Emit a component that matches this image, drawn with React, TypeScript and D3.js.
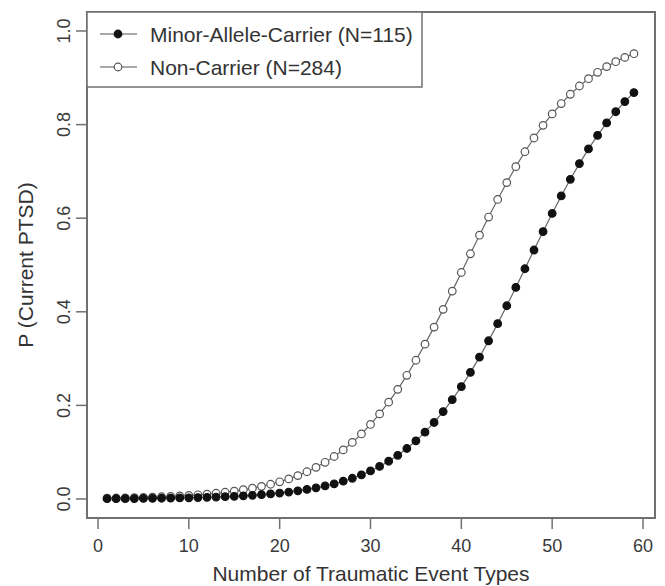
import React from "react";
import { select, scaleLinear, line } from "d3";

// number of traumatic event types (x) and fitted P(current PTSD) per group
const events = [
  1, 2, 3, 4, 5, 6, 7, 8, 9, 10, 11, 12, 13, 14, 15, 16, 17, 18, 19, 20,
  21, 22, 23, 24, 25, 26, 27, 28, 29, 30, 31, 32, 33, 34, 35, 36, 37, 38, 39, 40,
  41, 42, 43, 44, 45, 46, 47, 48, 49, 50, 51, 52, 53, 54, 55, 56, 57, 58, 59,
];

const carrier = [
  0.0006, 0.0007, 0.0008, 0.001, 0.0012, 0.0014, 0.0016, 0.0019, 0.0022, 0.0026,
  0.003, 0.0036, 0.0042, 0.0049, 0.0058, 0.0067, 0.0079, 0.0093, 0.0109, 0.0127,
  0.0149, 0.0174, 0.0204, 0.0238, 0.0279, 0.0325, 0.038, 0.0443, 0.0515, 0.0599,
  0.0696, 0.0807, 0.0934, 0.1079, 0.1243, 0.1428, 0.1635, 0.1867, 0.2122, 0.2401,
  0.2705, 0.3032, 0.3381, 0.3747, 0.4129, 0.4521, 0.492, 0.532, 0.5715, 0.6102,
  0.6475, 0.6831, 0.7167, 0.748, 0.7769, 0.8035, 0.8275, 0.8492, 0.8685,
];

const nonCarrier = [
  0.0018, 0.0021, 0.0025, 0.0029, 0.0035, 0.0041, 0.0048, 0.0056, 0.0065, 0.0077,
  0.009, 0.0105, 0.0123, 0.0144, 0.0169, 0.0198, 0.0231, 0.027, 0.0315, 0.0368,
  0.0429, 0.05, 0.0582, 0.0676, 0.0784, 0.0908, 0.1049, 0.1209, 0.139, 0.1593,
  0.1818, 0.2069, 0.2343, 0.2643, 0.2965, 0.3309, 0.3673, 0.4052, 0.4442, 0.484,
  0.524, 0.5637, 0.6025, 0.6401, 0.6761, 0.7101, 0.742, 0.7714, 0.7984, 0.8229,
  0.845, 0.8648, 0.8825, 0.8981, 0.9118, 0.9239, 0.9344, 0.9436, 0.9515,
];

const xTicks = [0, 10, 20, 30, 40, 50, 60];
const yTicks = [0, 0.2, 0.4, 0.6, 0.8, 1];
const yTickLabels = ["0.0", "0.2", "0.4", "0.6", "0.8", "1.0"];
const legendLabels = ["Minor-Allele-Carrier (N=115)", "Non-Carrier (N=284)"];

const W = 665;
const H = 586;
const box = { left: 87, top: 12, right: 655, bottom: 518 };
const FONT = "'Liberation Sans', Arial, Helvetica, sans-serif";

export default function App() {
  const svgRef = React.useRef<SVGSVGElement>(null);

  React.useEffect(() => {
    const svg = select(svgRef.current);
    svg.selectAll("*").remove();

    const xScale = scaleLinear().domain([0, 60]).range([98, 643]);
    const yScale = scaleLinear().domain([0, 1]).range([499, 31]);

    // plot box
    svg
      .append("rect")
      .attr("x", box.left)
      .attr("y", box.top)
      .attr("width", box.right - box.left)
      .attr("height", box.bottom - box.top)
      .attr("fill", "none")
      .attr("stroke", "#707070")
      .attr("stroke-width", 2);

    // x axis
    const gx = svg.append("g");
    gx.selectAll("line")
      .data(xTicks)
      .join("line")
      .attr("x1", d => xScale(d))
      .attr("x2", d => xScale(d))
      .attr("y1", box.bottom)
      .attr("y2", box.bottom + 11)
      .attr("stroke", "#707070")
      .attr("stroke-width", 1.5);
    gx.selectAll("text")
      .data(xTicks)
      .join("text")
      .attr("x", d => xScale(d))
      .attr("y", 552)
      .attr("text-anchor", "middle")
      .attr("font-family", FONT)
      .attr("font-size", 18)
      .attr("fill", "#3a3a3a")
      .text(d => d);

    // y axis
    const gy = svg.append("g");
    gy.selectAll("line")
      .data(yTicks)
      .join("line")
      .attr("x1", box.left - 11)
      .attr("x2", box.left)
      .attr("y1", d => yScale(d))
      .attr("y2", d => yScale(d))
      .attr("stroke", "#707070")
      .attr("stroke-width", 1.5);
    gy.selectAll("text")
      .data(yTicks)
      .join("text")
      .attr("transform", d => `translate(70,${yScale(d)}) rotate(-90)`)
      .attr("text-anchor", "middle")
      .attr("font-family", FONT)
      .attr("font-size", 18)
      .attr("fill", "#3a3a3a")
      .text((_, i) => yTickLabels[i]);

    // axis titles
    svg
      .append("text")
      .attr("x", (box.left + box.right) / 2)
      .attr("y", 581)
      .attr("text-anchor", "middle")
      .attr("font-family", FONT)
      .attr("font-size", 21)
      .attr("fill", "#333")
      .text("Number of Traumatic Event Types");
    svg
      .append("text")
      .attr("transform", `translate(33,${(box.top + box.bottom) / 2}) rotate(-90)`)
      .attr("text-anchor", "middle")
      .attr("font-family", FONT)
      .attr("font-size", 21)
      .attr("fill", "#333")
      .text("P (Current PTSD)");

    const lineGen = line<number>()
      .x((_, i) => xScale(events[i]))
      .y(d => yScale(d));

    const series = [
      { values: nonCarrier, fill: "#fff", stroke: "#555" },
      { values: carrier, fill: "#111", stroke: "#111" },
    ];

    series.forEach(s => {
      svg
        .append("path")
        .attr("d", lineGen(s.values))
        .attr("fill", "none")
        .attr("stroke", "#666")
        .attr("stroke-width", 1.2);
      svg
        .append("g")
        .selectAll("circle")
        .data(s.values)
        .join("circle")
        .attr("cx", (_, i) => xScale(events[i]))
        .attr("cy", d => yScale(d))
        .attr("r", 3.8)
        .attr("fill", s.fill)
        .attr("stroke", s.stroke)
        .attr("stroke-width", 1.2);
    });

    // legend
    const legend = svg.append("g");
    legend
      .append("rect")
      .attr("x", box.left)
      .attr("y", box.top)
      .attr("width", 422 - box.left)
      .attr("height", 87 - box.top)
      .attr("fill", "#fff")
      .attr("stroke", "#707070")
      .attr("stroke-width", 1.5);
    const rows = [
      { fill: "#111", stroke: "#111" },
      { fill: "#fff", stroke: "#555" },
    ];
    rows.forEach((r, i) => {
      const cy = 34 + i * 33;
      legend
        .append("line")
        .attr("x1", 100)
        .attr("x2", 137)
        .attr("y1", cy)
        .attr("y2", cy)
        .attr("stroke", "#555")
        .attr("stroke-width", 1.2);
      legend
        .append("circle")
        .attr("cx", 118)
        .attr("cy", cy)
        .attr("r", 3.8)
        .attr("fill", r.fill)
        .attr("stroke", r.stroke)
        .attr("stroke-width", 1.2);
      legend
        .append("text")
        .attr("x", 150)
        .attr("y", cy + 8)
        .attr("font-family", FONT)
        .attr("font-size", 21)
        .attr("fill", "#333")
        .text(legendLabels[i]);
    });
  }, []);

  return (
    <svg
      ref={svgRef}
      width={W}
      height={H}
      style={{ position: "absolute", left: 0, top: 0, background: "#fff" }}
    />
  );
}
